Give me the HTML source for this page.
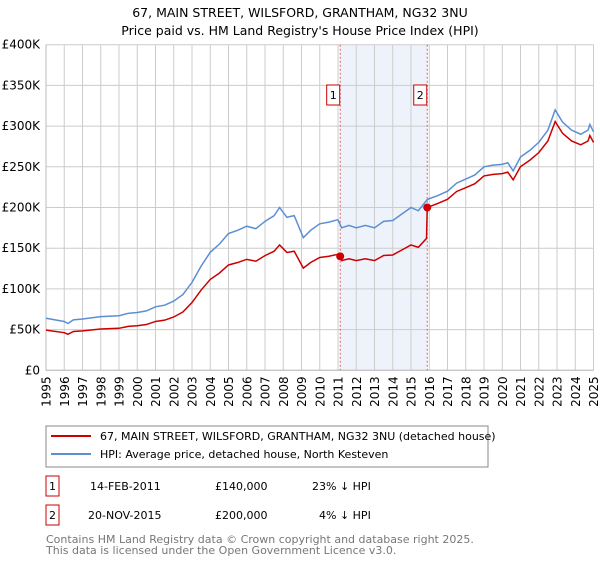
<!DOCTYPE html>
<html><head><meta charset="utf-8"><style>
body{margin:0;background:#fff;font-family:"Liberation Sans","DejaVu Sans",sans-serif;}
svg text{font-family:"DejaVu Sans","Liberation Sans",sans-serif;}
</style></head><body>
<svg id="c" width="600" height="560" xmlns="http://www.w3.org/2000/svg">
<text x="300" y="17" text-anchor="middle" font-size="12.5">67, MAIN STREET, WILSFORD, GRANTHAM, NG32 3NU</text>
<text x="300" y="35" text-anchor="middle" font-size="12.5">Price paid vs. HM Land Registry's House Price Index (HPI)</text>
<g id="plot"></g>
<g>
<rect x="46" y="426" width="442" height="41" fill="#fff" stroke="#888"/>
<line x1="51" y1="436" x2="91" y2="436" stroke="#cc0000" stroke-width="2"/>
<text x="100" y="440" font-size="11">67, MAIN STREET, WILSFORD, GRANTHAM, NG32 3NU (detached house)</text>
<line x1="51" y1="454" x2="91" y2="454" stroke="#5b8fd4" stroke-width="2"/>
<text x="100" y="458" font-size="11">HPI: Average price, detached house, North Kesteven</text>
</g>
<g font-size="11">
<rect x="46" y="476" width="13" height="20" fill="#fff" stroke="#cc0000"/>
<text x="52.5" y="490" text-anchor="middle">1</text>
<text x="90" y="490">14-FEB-2011</text><text x="215" y="490">£140,000</text><text x="312" y="490">23% ↓ HPI</text>
<rect x="46" y="505" width="13" height="20" fill="#fff" stroke="#cc0000"/>
<text x="52.5" y="519" text-anchor="middle">2</text>
<text x="88" y="519">20-NOV-2015</text><text x="215" y="519">£200,000</text><text x="319" y="519">4% ↓ HPI</text>
</g>
<text x="46" y="543" font-size="11" fill="#777">Contains HM Land Registry data © Crown copyright and database right 2025.</text>
<text x="46" y="554" font-size="11" fill="#777">This data is licensed under the Open Government Licence v3.0.</text>
</svg>
<script>
const hpiYears=[1995,1996,1996.2,1996.5,1997,1998,1999,1999.5,2000,2000.5,2001,2001.5,2002,2002.5,2003,2003.5,2004,2004.5,2005,2005.5,2006,2006.5,2007,2007.5,2007.8,2008.2,2008.6,2009.1,2009.5,2010,2010.5,2011,2011.2,2011.6,2012,2012.5,2013,2013.5,2014,2014.5,2015,2015.4,2015.9,2016.5,2017,2017.5,2018,2018.5,2019,2019.5,2020,2020.3,2020.6,2021,2021.5,2022,2022.5,2022.9,2023.3,2023.8,2024.3,2024.7,2024.8,2025];
const hpiValues=[64,60,57.5,62,63,66,67,70,71,73,78,80,85,93,108,128,145,155,168,172,177,174,183,190,200,188,190,163,172,180,182,185,175,178,175,178,175,183,184,192,200,196,210,215,220,230,235,240,250,252,253,255,245,262,270,280,295,320,305,295,290,295,302,293];
const priceYears=[1995,1996,1996.2,1996.5,1997,1998,1999,1999.5,2000,2000.5,2001,2001.5,2002,2002.5,2003,2003.5,2004,2004.5,2005,2005.5,2006,2006.5,2007,2007.5,2007.8,2008.2,2008.6,2009.1,2009.5,2010,2010.5,2011,2011.12,2011.2,2011.6,2012,2012.5,2013,2013.5,2014,2014.5,2015,2015.4,2015.85,2015.89,2016.5,2017,2017.5,2018,2018.5,2019,2019.5,2020,2020.3,2020.6,2021,2021.5,2022,2022.5,2022.9,2023.3,2023.8,2024.3,2024.7,2024.8,2025];
const priceValues=[49.3,46.2,44.3,47.7,48.5,50.8,51.6,53.9,54.7,56.2,60,61.6,65.5,71.6,83.2,98.6,111.7,119.4,129.4,132.4,136.3,134,140.9,146.3,154,144.8,146.3,125.5,132.4,138.6,140.1,142.5,140,134.8,137,134.8,137,134.8,141,141.7,147.8,154,151,162,200,205.3,210,219.7,224.4,229.2,238.8,240.7,241.6,243.5,234,250.2,257.9,267.4,281.7,305.6,291.3,281.7,277,281.7,288.4,280];
const saleYears=[2011.12,2015.89];
const saleValues=[140,200];
const saleLabels=["1","2"];
const yTicks=[0,50,100,150,200,250,300,350,400];
const yTickLabels=["£0","£50K","£100K","£150K","£200K","£250K","£300K","£350K","£400K"];
const xTicks=[1995,1996,1997,1998,1999,2000,2001,2002,2003,2004,2005,2006,2007,2008,2009,2010,2011,2012,2013,2014,2015,2016,2017,2018,2019,2020,2021,2022,2023,2024,2025];

const L=46,R=593.5,T=44.7,B=370.3,NS="http://www.w3.org/2000/svg";
const x=v=>L+(v-1995)/30*(R-L);
const y=v=>B-v/400*(B-T);
const g=document.getElementById('plot');
function mk(t,a,p){const e=document.createElementNS(NS,t);for(const k in a)e.setAttribute(k,a[k]);(p||g).appendChild(e);return e;}
let sh=mk('rect',{x:x(saleYears[0]),y:T,width:x(saleYears[1])-x(saleYears[0]),height:B-T,fill:'#eef3fb'});


yTicks.forEach((v,i)=>{
 let l=mk('line',{x1:L,x2:R,y1:y(v),y2:y(v),stroke:'#ccc','stroke-width':1});
 
 
 let t=mk('text',{x:L-6,y:y(v)+4,'text-anchor':'end','font-size':12});
 t.textContent=yTickLabels[i];
 
 
});
xTicks.forEach(v=>{
 let l=mk('line',{x1:x(v),x2:x(v),y1:T,y2:B,stroke:'#ccc','stroke-width':1});
 
 
 let t=mk('text',{x:0,y:0,'text-anchor':'end','font-size':12,transform:`translate(${x(v)+4.5},${B+6}) rotate(-90)`});
 t.textContent=v;
 
 
});
let ax=mk('path',{d:`M${L},${T}V${B}H${R}`,fill:'none',stroke:'#bbb'});


saleYears.forEach((s,i)=>{
 let l=mk('line',{x1:x(s),x2:x(s),y1:T,y2:B,stroke:'#e06060','stroke-dasharray':'2,2'});
 
 
});
function line(xs,vs,c,n){
 let p=mk('polyline',{points:xs.map((v,i)=>x(v)+','+y(vs[i])).join(' '),fill:'none',stroke:c,'stroke-width':1.5});
 
 
}
line(hpiYears,hpiValues,'#5b8fd4','hpi-line');
line(priceYears,priceValues,'#cc0000','price-paid-line');
saleYears.forEach((s,i)=>{
 let c=mk('circle',{cx:x(s),cy:y(saleValues[i]),r:4,fill:'#cc0000'});
 
 
 let bx=x(s)-13;
 let r=mk('rect',{x:bx-0.5,y:85,width:13,height:20,fill:'#fff',stroke:'#cc0000'});
 
 
 let t=mk('text',{x:bx+6,y:99,'text-anchor':'middle','font-size':11});
 t.textContent=saleLabels[i];
 
 
});
</script>
</body></html>
